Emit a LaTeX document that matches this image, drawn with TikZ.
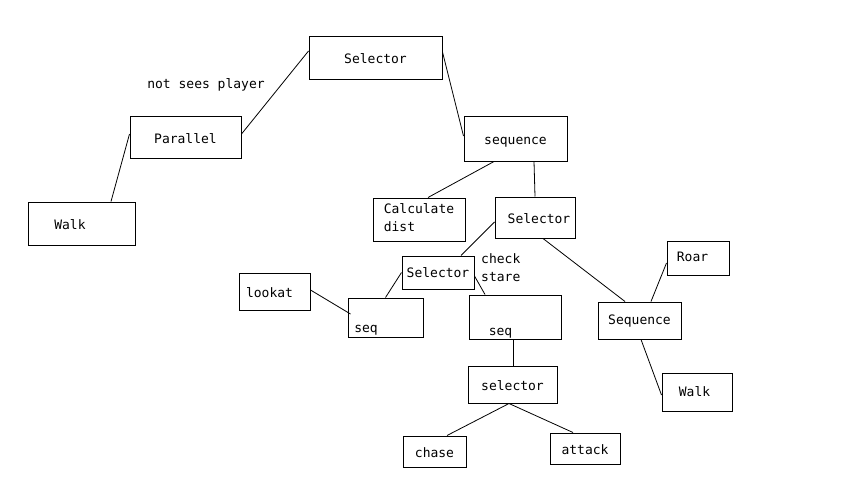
\documentclass[tikz,border=0pt]{standalone}
\usepackage{fontspec}
\newfontfamily\treefont{DejaVu Sans Mono}
\newcommand\treetext{\treefont\fontsize{13}{18}\selectfont}

\begin{document}
\begin{tikzpicture}[
  x=1pt, y=-1pt,
  box/.style={draw, rectangle, line width=1pt, inner sep=0pt, font=\treetext, text height=15pt, text depth=3pt},
  twobox/.style={draw, rectangle, line width=1pt, inner sep=0pt, align=left, font=\treetext},
  note/.style={inner sep=0pt, align=left, font=\treetext},
  link/.style={line width=0.8pt}
]
\useasboundingbox (0,0) rectangle (845,479);

% top part
\node[box, minimum width=133pt, minimum height=43pt] (selA) at (375.5,57.5) {Selector};
\node[box, minimum width=111pt, minimum height=42pt] (par) at (185.5,137) {Parallel};
\node[box, minimum width=107pt, minimum height=43pt] (walkA) at (81.5,223.5) {Walk\kern23pt};
\node[note] (cond) at (206,84.5) {not sees player};
\node[box, minimum width=103pt, minimum height=45pt] (seqA) at (515.5,138.5) {sequence};
\node[twobox, minimum width=92pt, minimum height=43pt, text depth=4pt] (calc) at (419,219.5) {Calculate\\dist};
\node[box, minimum width=80pt, minimum height=41pt] (selB) at (535,217.5) {\kern8pt Selector};

% stare branch
\node[box, minimum width=72pt, minimum height=33pt, text height=13pt] (selC) at (438,272.5) {Selector};
\node[note, anchor=west] (stare) at (481,268) {check\\stare};
\node[box, minimum width=71pt, minimum height=37pt] (lookat) at (274.5,291.5) {lookat\kern10pt};
\node[box, minimum width=75pt, minimum height=39pt, text height=32pt] (seqL) at (385.5,317.5) {seq\kern39pt};
\node[box, minimum width=92pt, minimum height=44pt, text height=39pt] (seqR) at (515,317) {seq\kern29pt};
\node[box, minimum width=89pt, minimum height=37pt] (selD) at (512.5,384.5) {selector};
\node[box, minimum width=63pt, minimum height=31pt] (chase) at (434.5,451.5) {chase};
\node[box, minimum width=70pt, minimum height=31pt] (attack) at (585,448.5) {attack};

% roar branch
\node[box, minimum width=83pt, minimum height=37pt, text height=11pt] (seqB) at (639.5,320.5) {Sequence};
\node[box, minimum width=62pt, minimum height=34pt, text height=9pt] (roar) at (698,258) {Roar\kern11pt};
\node[box, minimum width=70pt, minimum height=38pt, text height=11pt] (walkB) at (697,392) {Walk\kern5pt};

\draw[link] ([yshift=6.5pt]selA.west) -- ([yshift=3pt]par.east);
\draw[link] ([yshift=3pt]par.west) -- ([xshift=29.5pt]walkA.north);
\draw[link] ([yshift=5.5pt]selA.east) -- ([yshift=2.5pt]seqA.west);
\draw[link] ([xshift=-21.5pt]seqA.south) -- ([xshift=9pt]calc.north);
\draw[link] ([xshift=18.5pt]seqA.south) -- (selB.north);
\draw[link] ([yshift=-4.5pt]selB.west) -- ([xshift=23pt]selC.north);
\draw[link] ([xshift=8pt]selB.south) -- ([xshift=-14.5pt]seqB.north);
\draw[link] (selC.west) -- (seqL.north);
\draw[link] ([yshift=-3.5pt]selC.east) -- ([xshift=-30pt]seqR.north);
\draw[link] ([yshift=1.5pt]lookat.east) -- ([xshift=3pt,yshift=3.5pt]seqL.west);
\draw[link] ([xshift=-2pt]seqR.south) -- ([xshift=0.5pt]selD.north);
\draw[link] ([xshift=-3.5pt]selD.south) -- ([xshift=12.5pt]chase.north);
\draw[link] ([xshift=-3.5pt]selD.south) -- ([xshift=-12pt]attack.north);
\draw[link] ([xshift=11.5pt]seqB.north) -- ([yshift=-5pt]roar.west);
\draw[link] ([xshift=1.5pt]seqB.south) -- ([yshift=-3pt]walkB.west);
\end{tikzpicture}
\end{document}
